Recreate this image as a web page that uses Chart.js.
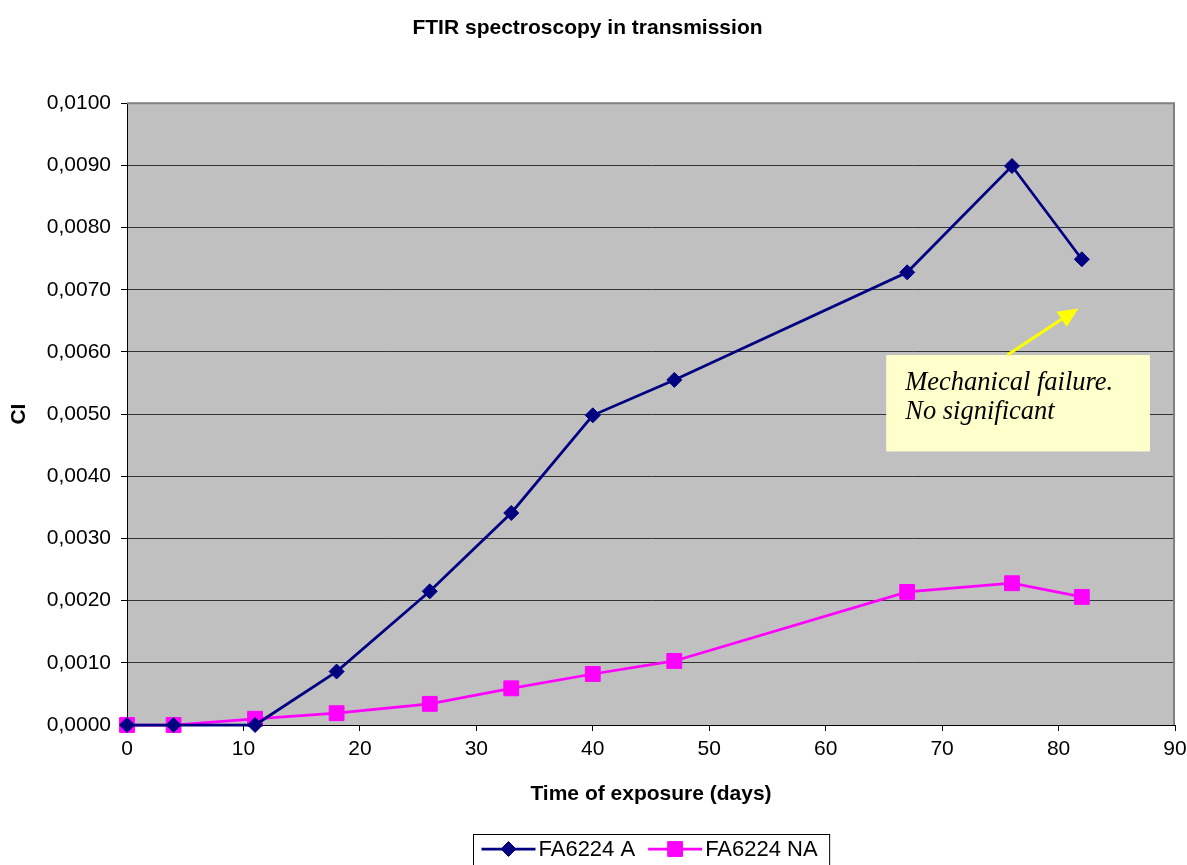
<!DOCTYPE html>
<html>
<head>
<meta charset="utf-8">
<title>FTIR spectroscopy in transmission</title>
<script src="https://cdn.jsdelivr.net/npm/chart.js@4/dist/chart.umd.min.js"></script>
<style>
  body { margin: 0; background: #fff; }
  #wrap { width: 1187px; height: 865px; }
</style>
</head>
<body>
<div id="wrap"><canvas id="ftirChart" width="1187" height="865"></canvas></div>
<script>
// exposure time (days)
const days = [0, 4, 11, 18, 26, 33, 40, 47, 67, 76, 82];
// carbonyl index per sample
const ciA = [0, 0, 0, 0.00086, 0.00215, 0.00341, 0.00498, 0.00555, 0.00728, 0.00899, 0.00749];
const ciNA = [0, 0, 0.0001, 0.00019, 0.00034, 0.00059, 0.00082, 0.00103, 0.00214, 0.00228, 0.00206];
const seriesNames = ['FA6224 A', 'FA6224 NA'];

const axisFont = { family: 'Arial, "Liberation Sans", sans-serif', size: 21 };
const boldFont = { family: 'Arial, "Liberation Sans", sans-serif', size: 21, weight: 'bold' };

// note box, in data units
const note = {
    lines: ['Mechanical failure.', 'No significant'],
    x0: 65.2, x1: 87.85, y0: 0.00595, y1: 0.00440,
    arrowFrom: [75.6, 0.00595], arrowTo: [81.7, 0.00670]
};

function toPoints(ys) {
    return days.map((d, i) => ({ x: d, y: ys[i] }));
}

// gray plot area background
const plotBackground = {
    id: 'plotBackground',
    beforeDraw(chart) {
        const { ctx, chartArea: a } = chart;
        ctx.save();
        ctx.fillStyle = '#c0c0c0';
        ctx.fillRect(a.left, a.top, a.right - a.left, a.bottom - a.top);
        ctx.restore();
    },
    beforeDatasetsDraw(chart) {
        const { ctx, chartArea: a } = chart;
        ctx.save();
        ctx.strokeStyle = '#808080';
        ctx.lineWidth = 2;
        ctx.beginPath();
        ctx.moveTo(a.left, a.top);
        ctx.lineTo(a.right - 1, a.top);
        ctx.lineTo(a.right - 1, a.bottom);
        ctx.stroke();
        ctx.restore();
    }
};

// yellow callout with arrow
const noteBox = {
    id: 'noteBox',
    afterDraw(chart) {
        const { ctx, scales: { x, y } } = chart;
        const left = x.getPixelForValue(note.x0), right = x.getPixelForValue(note.x1);
        const top = y.getPixelForValue(note.y0), bottom = y.getPixelForValue(note.y1);
        ctx.save();
        ctx.fillStyle = '#ffffcc';
        ctx.fillRect(left, top, right - left, bottom - top);
        ctx.fillStyle = '#000';
        ctx.font = 'italic 26.5px "Times New Roman", "Liberation Serif", serif';
        ctx.textBaseline = 'alphabetic';
        note.lines.forEach((t, i) => ctx.fillText(t, left + 19, top + 35 + i * 29));

        const fx = x.getPixelForValue(note.arrowFrom[0]), fy = y.getPixelForValue(note.arrowFrom[1]);
        const tx = x.getPixelForValue(note.arrowTo[0]), ty = y.getPixelForValue(note.arrowTo[1]);
        const ang = Math.atan2(ty - fy, tx - fx);
        const head = 20, half = 9;
        const bx = tx - head * Math.cos(ang), by = ty - head * Math.sin(ang);
        ctx.strokeStyle = '#ffff00';
        ctx.fillStyle = '#ffff00';
        ctx.lineWidth = 3;
        ctx.beginPath();
        ctx.moveTo(fx, fy);
        ctx.lineTo(bx, by);
        ctx.stroke();
        ctx.beginPath();
        ctx.moveTo(tx, ty);
        ctx.lineTo(bx + half * Math.sin(ang), by - half * Math.cos(ang));
        ctx.lineTo(bx - half * Math.sin(ang), by + half * Math.cos(ang));
        ctx.closePath();
        ctx.fill();
        ctx.restore();
    }
};

// boxed legend under the axis title, line + marker per series
const boxLegend = {
    id: 'boxLegend',
    afterDraw(chart) {
        const { ctx, chartArea: a } = chart;
        const sets = chart.data.datasets;
        ctx.save();
        ctx.font = '22px Arial, "Liberation Sans", sans-serif';
        const lineLen = 54, gap = 3, padL = 8, padR = 12, between = 13;
        const widths = sets.map(ds => lineLen + gap + ctx.measureText(ds.label).width);
        const total = padL + padR + widths.reduce((s, w) => s + w, 0) + between * (sets.length - 1);
        const boxLeft = Math.round((a.left + a.right) / 2 - total / 2) + 0.5;
        const boxTop = 834.5;
        ctx.strokeStyle = '#000';
        ctx.lineWidth = 1;
        ctx.strokeRect(boxLeft, boxTop, total, 40);
        const cy = 849;
        let cx = boxLeft + padL;
        sets.forEach((ds, i) => {
            ctx.strokeStyle = ds.borderColor;
            ctx.lineWidth = ds.borderWidth;
            ctx.beginPath();
            ctx.moveTo(cx, cy);
            ctx.lineTo(cx + lineLen, cy);
            ctx.stroke();
            ctx.fillStyle = ds.pointBackgroundColor;
            ctx.lineWidth = 1;
            Chart.helpers.drawPoint(ctx, {
                pointStyle: ds.pointStyle, radius: ds.pointRadius, rotation: 0, borderWidth: 1
            }, cx + lineLen / 2, cy);
            ctx.fillStyle = '#000';
            ctx.textBaseline = 'middle';
            ctx.fillText(ds.label, cx + lineLen + gap, cy + 1);
            cx += widths[i] + between;
        });
        ctx.restore();
    }
};

const ctx = document.getElementById('ftirChart').getContext('2d');
const chart = new Chart(ctx, {
    type: 'line',
    data: {
        datasets: [{
            label: seriesNames[0],
            data: toPoints(ciA),
            borderColor: '#000080',
            backgroundColor: '#000080',
            pointBackgroundColor: '#000080',
            pointBorderColor: '#000080',
            borderWidth: 2.75,
            pointStyle: 'rectRot',
            pointRadius: 7.5,
            pointBorderWidth: 1,
            tension: 0,
            clip: false
        }, {
            label: seriesNames[1],
            data: toPoints(ciNA),
            borderColor: '#ff00ff',
            backgroundColor: '#ff00ff',
            pointBackgroundColor: '#ff00ff',
            pointBorderColor: '#ff00ff',
            borderWidth: 2.75,
            pointStyle: 'rect',
            pointRadius: 10.5,
            pointBorderWidth: 1,
            tension: 0,
            clip: false
        }]
    },
    options: {
        responsive: false,
        animation: false,
        devicePixelRatio: 1,
        layout: { padding: { top: 0, left: 0, right: 12, bottom: 0 } },
        plugins: {
            legend: { display: false },
            tooltip: { enabled: false },
            title: {
                display: true,
                text: 'FTIR spectroscopy in transmission',
                color: '#000',
                font: boldFont,
                padding: { top: 16, bottom: 62 }
            }
        },
        scales: {
            x: {
                type: 'linear',
                min: 0,
                max: 90,
                ticks: { stepSize: 10, color: '#000', font: axisFont, padding: 6, maxRotation: 0 },
                grid: { drawOnChartArea: false, drawTicks: true, tickLength: 6, color: '#000', tickColor: '#000' },
                border: { color: '#000', width: 1 },
                title: {
                    display: true,
                    text: 'Time of exposure (days)',
                    color: '#000',
                    font: boldFont,
                    padding: { top: 0, bottom: 58 }
                },
                afterFit(scale) {
                    scale.height = 140;
                    scale.paddingLeft = 0;
                    scale.paddingRight = 0;
                }
            },
            y: {
                min: 0,
                max: 0.01,
                ticks: {
                    stepSize: 0.001,
                    color: '#000',
                    font: axisFont,
                    padding: 10,
                    callback: v => v.toFixed(4).replace('.', ',')
                },
                grid: {
                    color: c => (c.tick && c.tick.value > 0.00999) ? '#808080' : '#333',
                    tickColor: '#000',
                    tickLength: 6,
                    lineWidth: 1
                },
                border: { color: '#000', width: 1 },
                title: {
                    display: true,
                    text: 'CI',
                    color: '#000',
                    font: boldFont,
                    padding: { top: 7, bottom: 0 }
                },
                afterFit(scale) { scale.width = 127; }
            }
        }
    },
    plugins: [plotBackground, noteBox, boxLegend]
});
</script>
</body>
</html>
